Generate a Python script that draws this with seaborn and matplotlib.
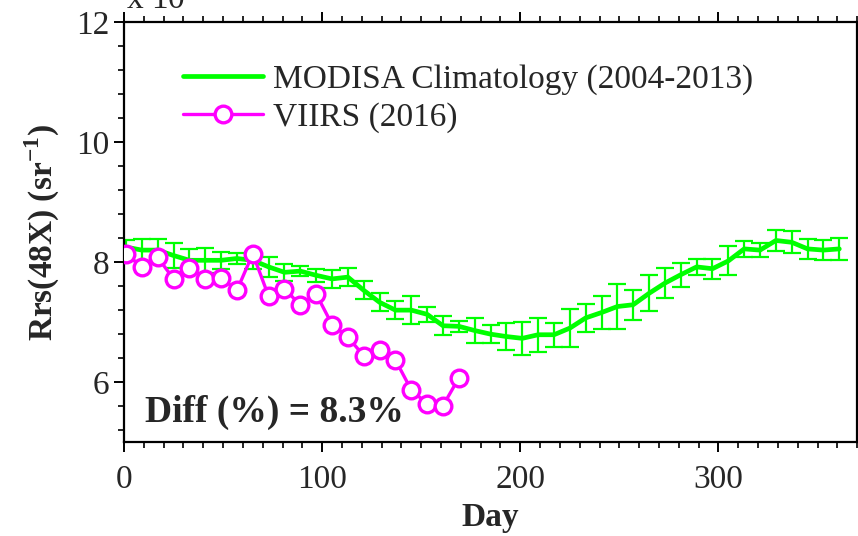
import numpy as np
import pandas as pd
import matplotlib
matplotlib.use("Agg")
import matplotlib.pyplot as plt
import seaborn as sns
from matplotlib.ticker import MultipleLocator
from matplotlib.lines import Line2D

# ---- data (Rrs in units of 1e-3 sr^-1) ----
modis_day = [1, 9, 17, 25, 33, 41, 49, 57, 65, 73, 81, 89, 97, 105, 113, 121,
             129, 137, 145, 153, 161, 169, 177, 185, 193, 201, 209, 217, 225,
             233, 241, 249, 257, 265, 273, 281, 289, 297, 305, 313, 321, 329,
             337, 345, 353, 361]
modis_rrs = [8.25, 8.20, 8.20, 8.11, 8.03, 8.03, 8.03, 8.06, 8.03, 7.92, 7.83,
             7.85, 7.78, 7.72, 7.75, 7.53, 7.33, 7.20, 7.20, 7.13, 6.94, 6.93,
             6.86, 6.80, 6.76, 6.73, 6.79, 6.79, 6.90, 7.07, 7.16, 7.26, 7.29,
             7.48, 7.65, 7.79, 7.92, 7.89, 8.02, 8.22, 8.20, 8.36, 8.33, 8.22,
             8.20, 8.22]
modis_err = [0.12, 0.18, 0.18, 0.21, 0.19, 0.21, 0.14, 0.09, 0.14, 0.17, 0.14,
             0.08, 0.11, 0.15, 0.15, 0.15, 0.15, 0.15, 0.23, 0.12, 0.16, 0.09,
             0.21, 0.15, 0.23, 0.27, 0.28, 0.20, 0.32, 0.24, 0.28, 0.38, 0.25,
             0.30, 0.25, 0.20, 0.13, 0.17, 0.24, 0.13, 0.11, 0.17, 0.18, 0.17,
             0.16, 0.18]

viirs_day = [1, 9, 17, 25, 33, 41, 49, 57, 65, 73, 81, 89, 97, 105, 113, 121,
             129, 137, 145, 153, 161, 169]
viirs_rrs = [8.14, 7.92, 8.08, 7.72, 7.90, 7.72, 7.74, 7.53, 8.14, 7.43, 7.56,
             7.28, 7.47, 6.96, 6.75, 6.44, 6.53, 6.37, 5.87, 5.64, 5.61, 6.07]

labels = ["MODISA Climatology (2004-2013)", "VIIRS (2016)"]
diff_text = "Diff (%) = 8.3%"

GREEN = "#00FF00"
MAGENTA = "#FF00FF"

sns.set_theme(style="ticks")
plt.rcParams["font.family"] = ["Liberation Serif", "DejaVu Serif"]
plt.rcParams["mathtext.fontset"] = "custom"
plt.rcParams["mathtext.rm"] = "Liberation Serif"
plt.rcParams["mathtext.bf"] = "Liberation Serif:bold"

fig = plt.figure(figsize=(8.58, 5.36), dpi=100)
ax = fig.add_axes([0.1445, 0.175, 0.8545, 0.784])

dfm = pd.DataFrame({"day": modis_day, "rrs": modis_rrs, "err": modis_err})
dfv = pd.DataFrame({"day": viirs_day, "rrs": viirs_rrs})

ax.errorbar(dfm["day"], dfm["rrs"], yerr=dfm["err"], fmt="none",
            ecolor=GREEN, elinewidth=1.6, capsize=6.5, capthick=1.6, zorder=2)
sns.lineplot(data=dfm, x="day", y="rrs", color=GREEN, linewidth=3.4,
             ax=ax, zorder=3, legend=False)
sns.lineplot(data=dfv, x="day", y="rrs", color=MAGENTA, linewidth=2.4,
             marker="o", markersize=12, markerfacecolor="white",
             markeredgecolor=MAGENTA, markeredgewidth=2.4,
             ax=ax, zorder=4, legend=False)

ax.set_xlim(0, 370)
ax.set_ylim(5, 12)
ax.xaxis.set_major_locator(MultipleLocator(100))
ax.xaxis.set_minor_locator(MultipleLocator(10))
ax.yaxis.set_major_locator(MultipleLocator(2))
ax.yaxis.set_minor_locator(MultipleLocator(0.4))
ax.tick_params(which="both", direction="out", top=True, right=True,
               bottom=True, left=True, color="black", labelsize=24)
ax.tick_params(which="major", length=7, width=1.4)
ax.tick_params(which="minor", length=4, width=1.2)
ax.tick_params(axis="x", pad=9)
for sp in ax.spines.values():
    sp.set_visible(True)
    sp.set_color("black")
    sp.set_linewidth(1.6)

ax.set_xlabel("Day", fontsize=24, fontweight="bold", labelpad=5)
ax.set_ylabel(r"Rrs(48X) (sr$^{\mathbf{-1}}$)", fontsize=24,
              fontweight="bold", labelpad=10)

handles = [Line2D([], [], color=GREEN, linewidth=3.4),
           Line2D([], [], color=MAGENTA, linewidth=2.4, marker="o",
                  markersize=12, markerfacecolor="white",
                  markeredgecolor=MAGENTA, markeredgewidth=2.4)]
ax.legend(handles, labels, loc="upper left", bbox_to_anchor=(0.04, 0.97),
          frameon=False, fontsize=24, handlelength=2.4, handletextpad=0.3,
          labelspacing=0.2)

ax.text(0.029, 0.048, diff_text, transform=ax.transAxes, fontsize=27,
        fontweight="bold", ha="left", va="baseline")

fig.text(0.147, 0.983, r"x 10$^{-3}$", fontsize=24, ha="left",
         va="baseline")

fig.savefig("out.png", dpi=100)
